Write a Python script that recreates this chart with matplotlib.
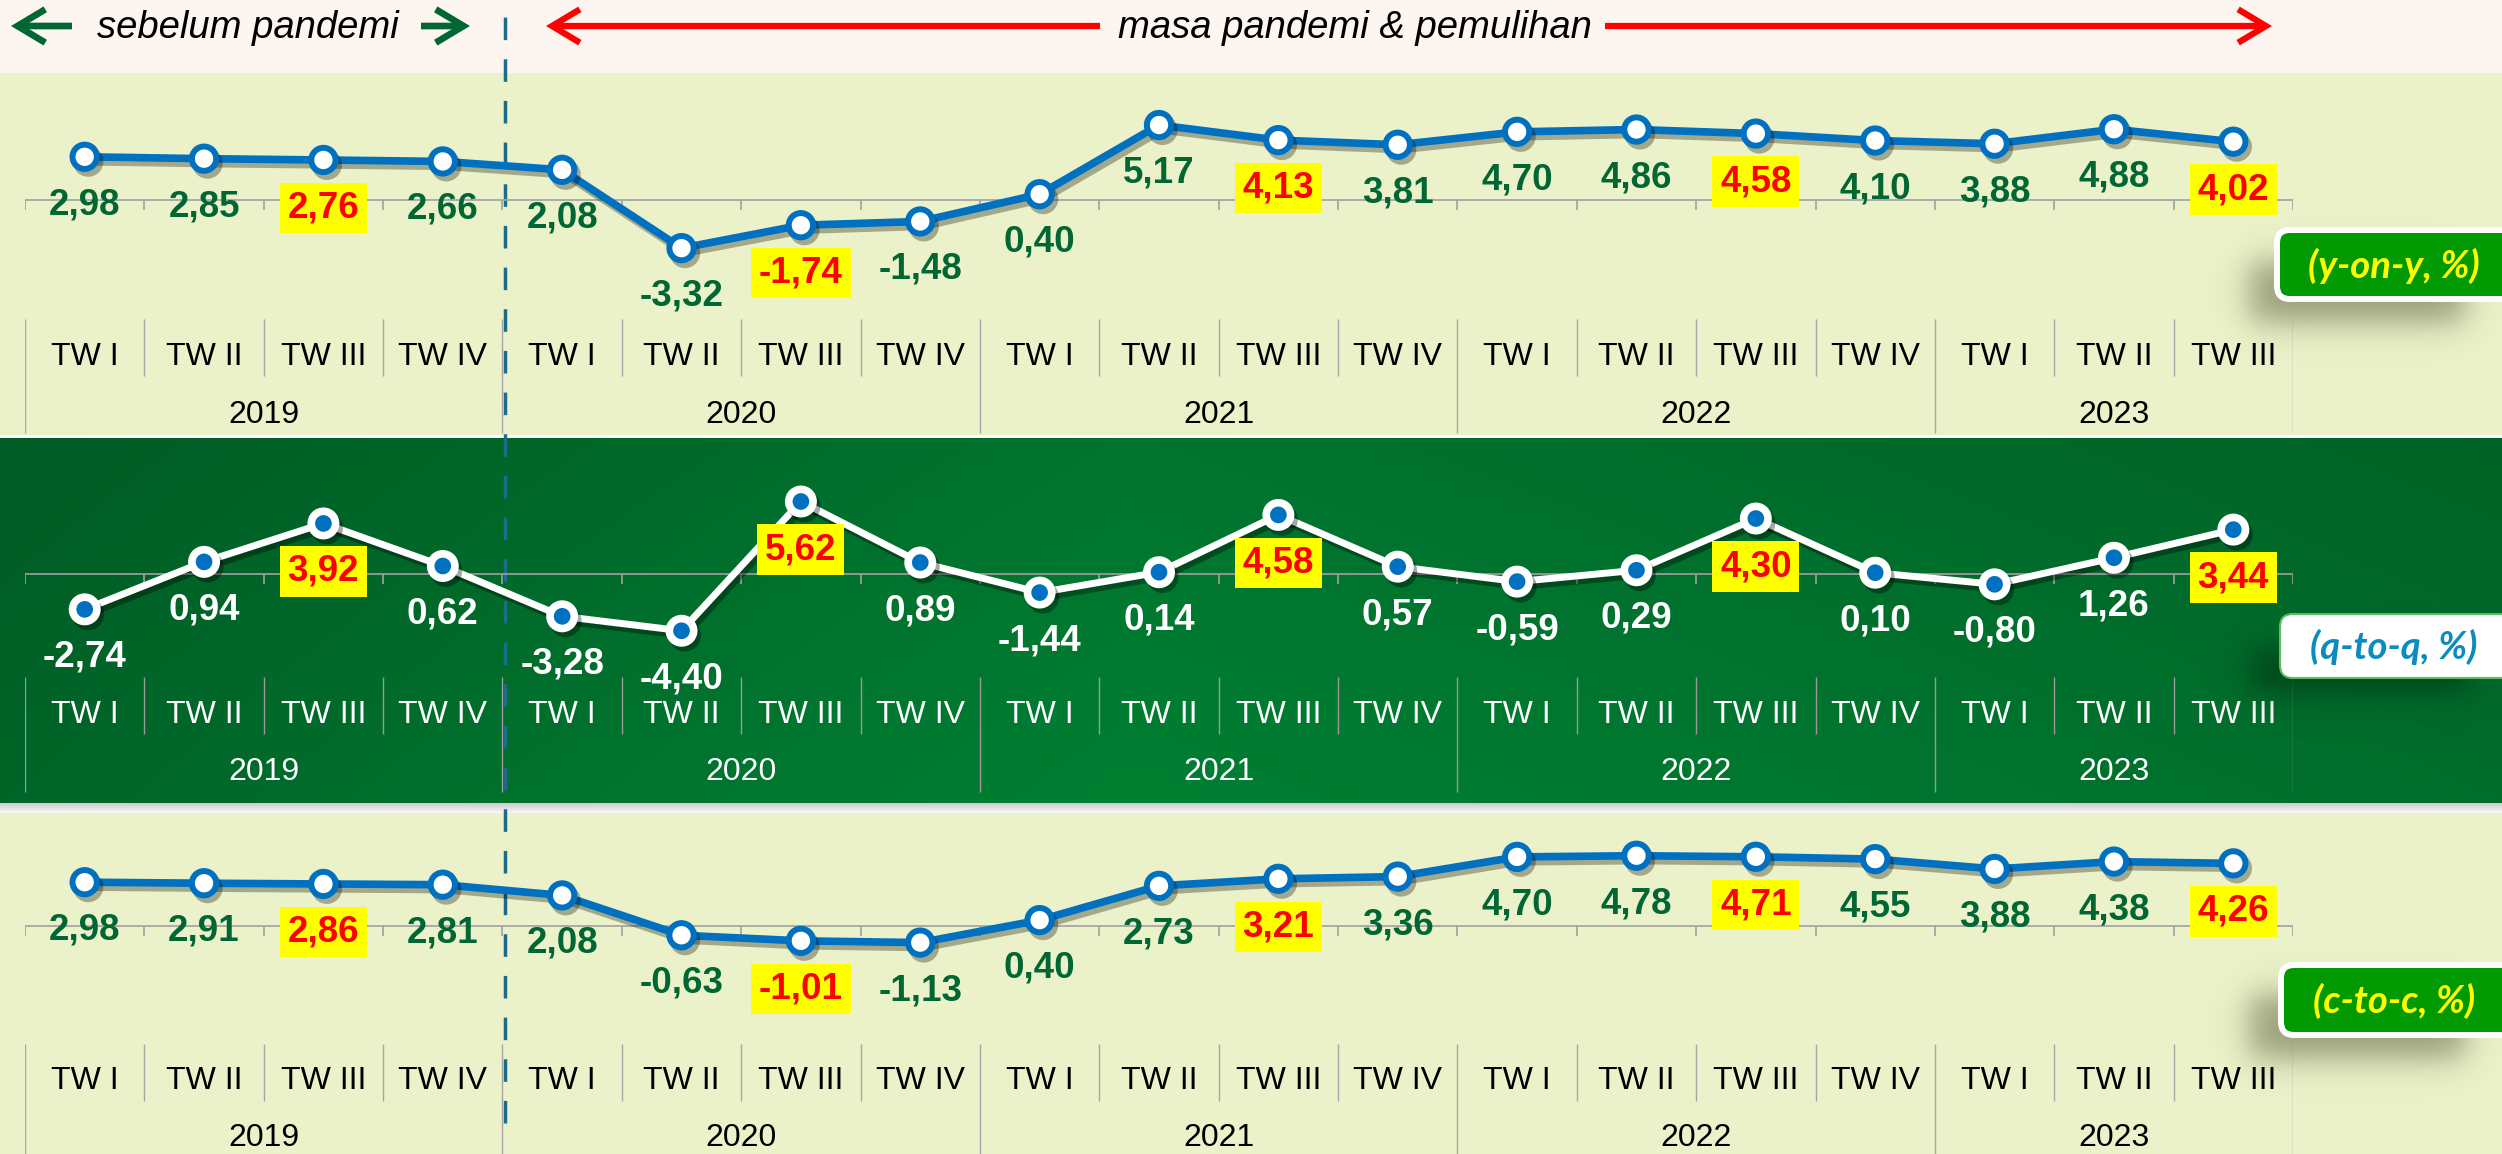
import numpy as np
import matplotlib
matplotlib.use('Agg')
import matplotlib.pyplot as plt
from matplotlib.patches import Rectangle, FancyBboxPatch, FancyArrowPatch
import matplotlib.patheffects as pe

# ---------------- data ----------------
quarters = ['TW I', 'TW II', 'TW III', 'TW IV'] * 4 + ['TW I', 'TW II', 'TW III']
years = ['2019', '2020', '2021', '2022', '2023']
year_sizes = [4, 4, 4, 4, 3]
yoy = [2.98, 2.85, 2.76, 2.66, 2.08, -3.32, -1.74, -1.48, 0.40, 5.17, 4.13, 3.81,
       4.70, 4.86, 4.58, 4.10, 3.88, 4.88, 4.02]
qtq = [-2.74, 0.94, 3.92, 0.62, -3.28, -4.40, 5.62, 0.89, -1.44, 0.14, 4.58, 0.57,
       -0.59, 0.29, 4.30, 0.10, -0.80, 1.26, 3.44]
ctc = [2.98, 2.91, 2.86, 2.81, 2.08, -0.63, -1.01, -1.13, 0.40, 2.73, 3.21, 3.36,
       4.70, 4.78, 4.71, 4.55, 3.88, 4.38, 4.26]
badge_labels = ['(y-on-y, %)', '(q-to-q, %)', '(c-to-c, %)']
period_labels = ['sebelum pandemi', 'masa pandemi & pemulihan']
highlight_quarter = 'TW III'

# ---------------- layout ----------------
W, H = 2502, 1154
DPI = 100
PX = 72.0 / DPI  # points per pixel
LIGHT = '#EBF1C8'
FONT = 'Liberation Sans'

fig = plt.figure(figsize=(W / DPI, H / DPI), dpi=DPI, facecolor='white')

bg = fig.add_axes([0, 0, 1, 1], zorder=0)
bg.axis('off')
bg.add_patch(Rectangle((0, 0), W, 73, color='#FDF5F0', lw=0))
bg.add_patch(Rectangle((0, 73), W, 362, color=LIGHT, lw=0))
bg.add_patch(Rectangle((0, 813), W, H - 813, color=LIGHT, lw=0))

# dark green gradient band
gx = np.linspace(0, 1, 400)
gy = np.linspace(0, 1, 80)
gcol = np.interp(gx, [0, 0.45, 1.0], [98, 124, 106])
vfac = np.interp(gy, [0, 1], [0.93, 1.03])
G = vfac[:, None] * gcol[None, :]
img = np.zeros((len(gy), len(gx), 3))
img[..., 1] = G / 255.0
img[..., 2] = G * 0.40 / 255.0
bg.imshow(img, extent=(0, W, 803, 438), aspect='auto', interpolation='bilinear', zorder=1)
# soft grey strip under dark band
strip = np.linspace(0.80, 0.97, 20)
simg = np.repeat(strip[:, None, None], 3, axis=2) * np.ones((20, 10, 3))
bg.imshow(simg, extent=(0, W, 813, 803), aspect='auto', interpolation='bilinear', zorder=1)
bg.set_xlim(0, W)
bg.set_ylim(H, 0)

n = len(quarters)
bounds = np.arange(n + 1) - 0.5
cum = np.concatenate([[0], np.cumsum(year_sizes)]) - 0.5
year_bounds = cum
quarter_bounds = np.array([b for b in bounds if b not in set(cum)])
year_centers = (cum[:-1] + cum[1:]) / 2

X0, X1 = 25, 2293

# dashed divider between 2019 and 2020 (shares panel x-scale)
guide = fig.add_axes([X0 / W, 0, (X1 - X0) / W, 1], zorder=1)
guide.axis('off')
guide.patch.set_alpha(0)
guide.set_xlim(-0.5, n - 0.5)
guide.set_ylim(H, 0)
guide.axvline(year_bounds[1] + 0.02, ymin=1 - 1123 / H, ymax=1 - 13 / H,
              color='#1D6C8C', lw=2.5, linestyle=(0, (6.5, 5.5)))

panels = [
    dict(data=yoy, top=73, bot=435, zero=200, slope=14.5, dark=False,
         sep_top=119, sep_bot=176, tw=157, yr=215, yr_bot=433),
    dict(data=qtq, top=438, bot=803, zero=574, slope=12.9, dark=True,
         sep_top=103, sep_bot=160, tw=141, yr=198, yr_bot=792),
    dict(data=ctc, top=813, bot=1154, zero=926, slope=14.7, dark=False,
         sep_top=118, sep_bot=175, tw=155, yr=212, yr_bot=1154),
]

for p in panels:
    zero, slope = p['zero'], p['slope']

    def v(py, zero=zero, slope=slope):
        return (zero - py) / slope

    ax = fig.add_axes([X0 / W, 1 - p['bot'] / H, (X1 - X0) / W, (p['bot'] - p['top']) / H],
                      zorder=2)
    ax.axis('off')
    ax.patch.set_alpha(0)
    ax.set_xlim(-0.5, n - 0.5)
    ax.set_ylim(v(p['bot']), v(p['top']))

    dark = p['dark']
    txtc = 'white' if dark else 'black'
    gridc = '#9A9A9A' if dark else '#A6A6A6'

    # zero axis with tick marks
    ax.axhline(0, color=gridc, lw=1.3, zorder=1)
    ax.vlines(bounds, v(zero + 10), 0, color=gridc, lw=1.3, zorder=1)
    # category separators
    ax.vlines(quarter_bounds, v(zero + p['sep_bot']), v(zero + p['sep_top']), color=gridc, lw=1.0)
    ax.vlines(year_bounds, v(p['yr_bot']), v(zero + p['sep_top']), color=gridc, lw=1.0)
    for i, q in enumerate(quarters):
        ax.text(i, v(zero + p['tw']), q, ha='center', va='center', fontsize=23,
                color=txtc, family=FONT)
    for c, yname in zip(year_centers, years):
        ax.text(c, v(zero + p['yr']), yname, ha='center', va='center', fontsize=23,
                color=txtc, family=FONT)

    x = np.arange(n)
    vals = p['data']
    shadow = [pe.SimpleLineShadow(offset=(2.5, -3.5), shadow_color='black', alpha=0.35 if dark else 0.3),
              pe.Normal()]
    if dark:
        ax.plot(x, vals, color='white', lw=5.0, marker='o', ms=17.5, mfc='#0070C0',
                mec='white', mew=5.5, zorder=3, path_effects=shadow)
    else:
        ax.plot(x, vals, color='#0070C0', lw=5.5, marker='o', ms=17.5, mfc='white',
                mec='#0070C0', mew=4.3, zorder=3, path_effects=shadow)

    for i, val in enumerate(vals):
        s = f'{val:.2f}'.replace('.', ',')
        hl = quarters[i] == highlight_quarter
        kw = dict(ha='center', va='center', fontsize=26.5, fontweight='bold', family=FONT,
                  textcoords='offset points', xytext=(0, -48 * PX), zorder=5,
                  annotation_clip=False)
        if hl:
            ax.annotate(s, (i, val), color='#FF0000',
                        bbox=dict(boxstyle='square,pad=0.21', fc='#FFFF00', ec='none'), **kw)
        else:
            ax.annotate(s, (i, val), color='white' if dark else '#006633', **kw)

# ---------------- overlay: header + badges ----------------
ov = fig.add_axes([0, 0, 1, 1], zorder=5)
ov.axis('off')
ov.patch.set_alpha(0)


def soft_shadow(x0, x1, y0, y1, s, alpha, rgb, z):
    xs = np.linspace(x0 - 3 * s, x1 + 3 * s, 200)
    ys = np.linspace(y0 - 3 * s, y1 + 3 * s, 100)
    sig = lambda t: 1.0 / (1.0 + np.exp(-t))
    ax_ = sig((xs - x0) / (0.6 * s)) * sig((x1 - xs) / (0.6 * s))
    ay_ = sig((ys - y0) / (0.6 * s)) * sig((y1 - ys) / (0.6 * s))
    a = alpha * ay_[:, None] * ax_[None, :]
    im = np.zeros((len(ys), len(xs), 4))
    im[..., 0], im[..., 1], im[..., 2] = rgb
    im[..., 3] = a
    ov.imshow(im, extent=(xs[0], xs[-1], ys[-1], ys[0]), aspect='auto',
              interpolation='bilinear', zorder=z)


soft_shadow(2250, 2465, 262, 322, 16, 0.5, (0.25, 0.28, 0.15), 1)
soft_shadow(2250, 2470, 648, 692, 16, 0.55, (0.0, 0.15, 0.05), 1)
soft_shadow(2250, 2465, 995, 1058, 16, 0.5, (0.25, 0.28, 0.15), 1)

badges = [
    dict(y0=230, y1=299, fc='#009A00', ec='white', lw=6 * PX, tc='#FFFF00', ty=266, x0=2277),
    dict(y0=614, y1=678, fc='white', ec='#5DBB63', lw=1.5, tc='#0C8CBE', ty=647, x0=2280),
    dict(y0=965, y1=1035, fc='#009A00', ec='white', lw=6 * PX, tc='#FFFF00', ty=1001, x0=2281),
]
for b, lab in zip(badges, badge_labels):
    ov.add_patch(FancyBboxPatch((b['x0'], b['y0']), 320, b['y1'] - b['y0'],
                                boxstyle='round,pad=0,rounding_size=13',
                                fc=b['fc'], ec=b['ec'], lw=b['lw'], zorder=3))
    ov.text(2394, b['ty'], lab, ha='center', va='center', fontsize=27.5, fontweight='bold',
            style='italic', color=b['tc'], family=['Lato', 'DejaVu Sans'], zorder=4)

# header arrows
def arrow(xa, xb, color, lw, hl, hw):
    ov.add_patch(FancyArrowPatch((xa, 26), (xb, 26),
                                 arrowstyle=f'->,head_length={hl},head_width={hw}',
                                 mutation_scale=10, lw=lw, color=color,
                                 shrinkA=0, shrinkB=0, zorder=3,
                                 capstyle='butt', joinstyle='miter'))

arrow(72, 11, '#006633', 4.8, 2.0, 1.2)
arrow(421, 470, '#006633', 4.8, 2.0, 1.2)
arrow(1100, 546, '#FF0000', 4.5, 2.0, 1.2)
arrow(1605, 2272, '#FF0000', 4.5, 2.0, 1.2)
ov.text(248, 28, period_labels[0], ha='center', va='center', fontsize=27.5, style='italic',
        color='black', family=FONT, zorder=4)
ov.text(1355, 28, period_labels[1], ha='center', va='center', fontsize=27.5, style='italic',
        color='black', family=FONT, zorder=4)

ov.set_xlim(0, W)
ov.set_ylim(H, 0)

fig.savefig('out.png', dpi=DPI, facecolor='white')
